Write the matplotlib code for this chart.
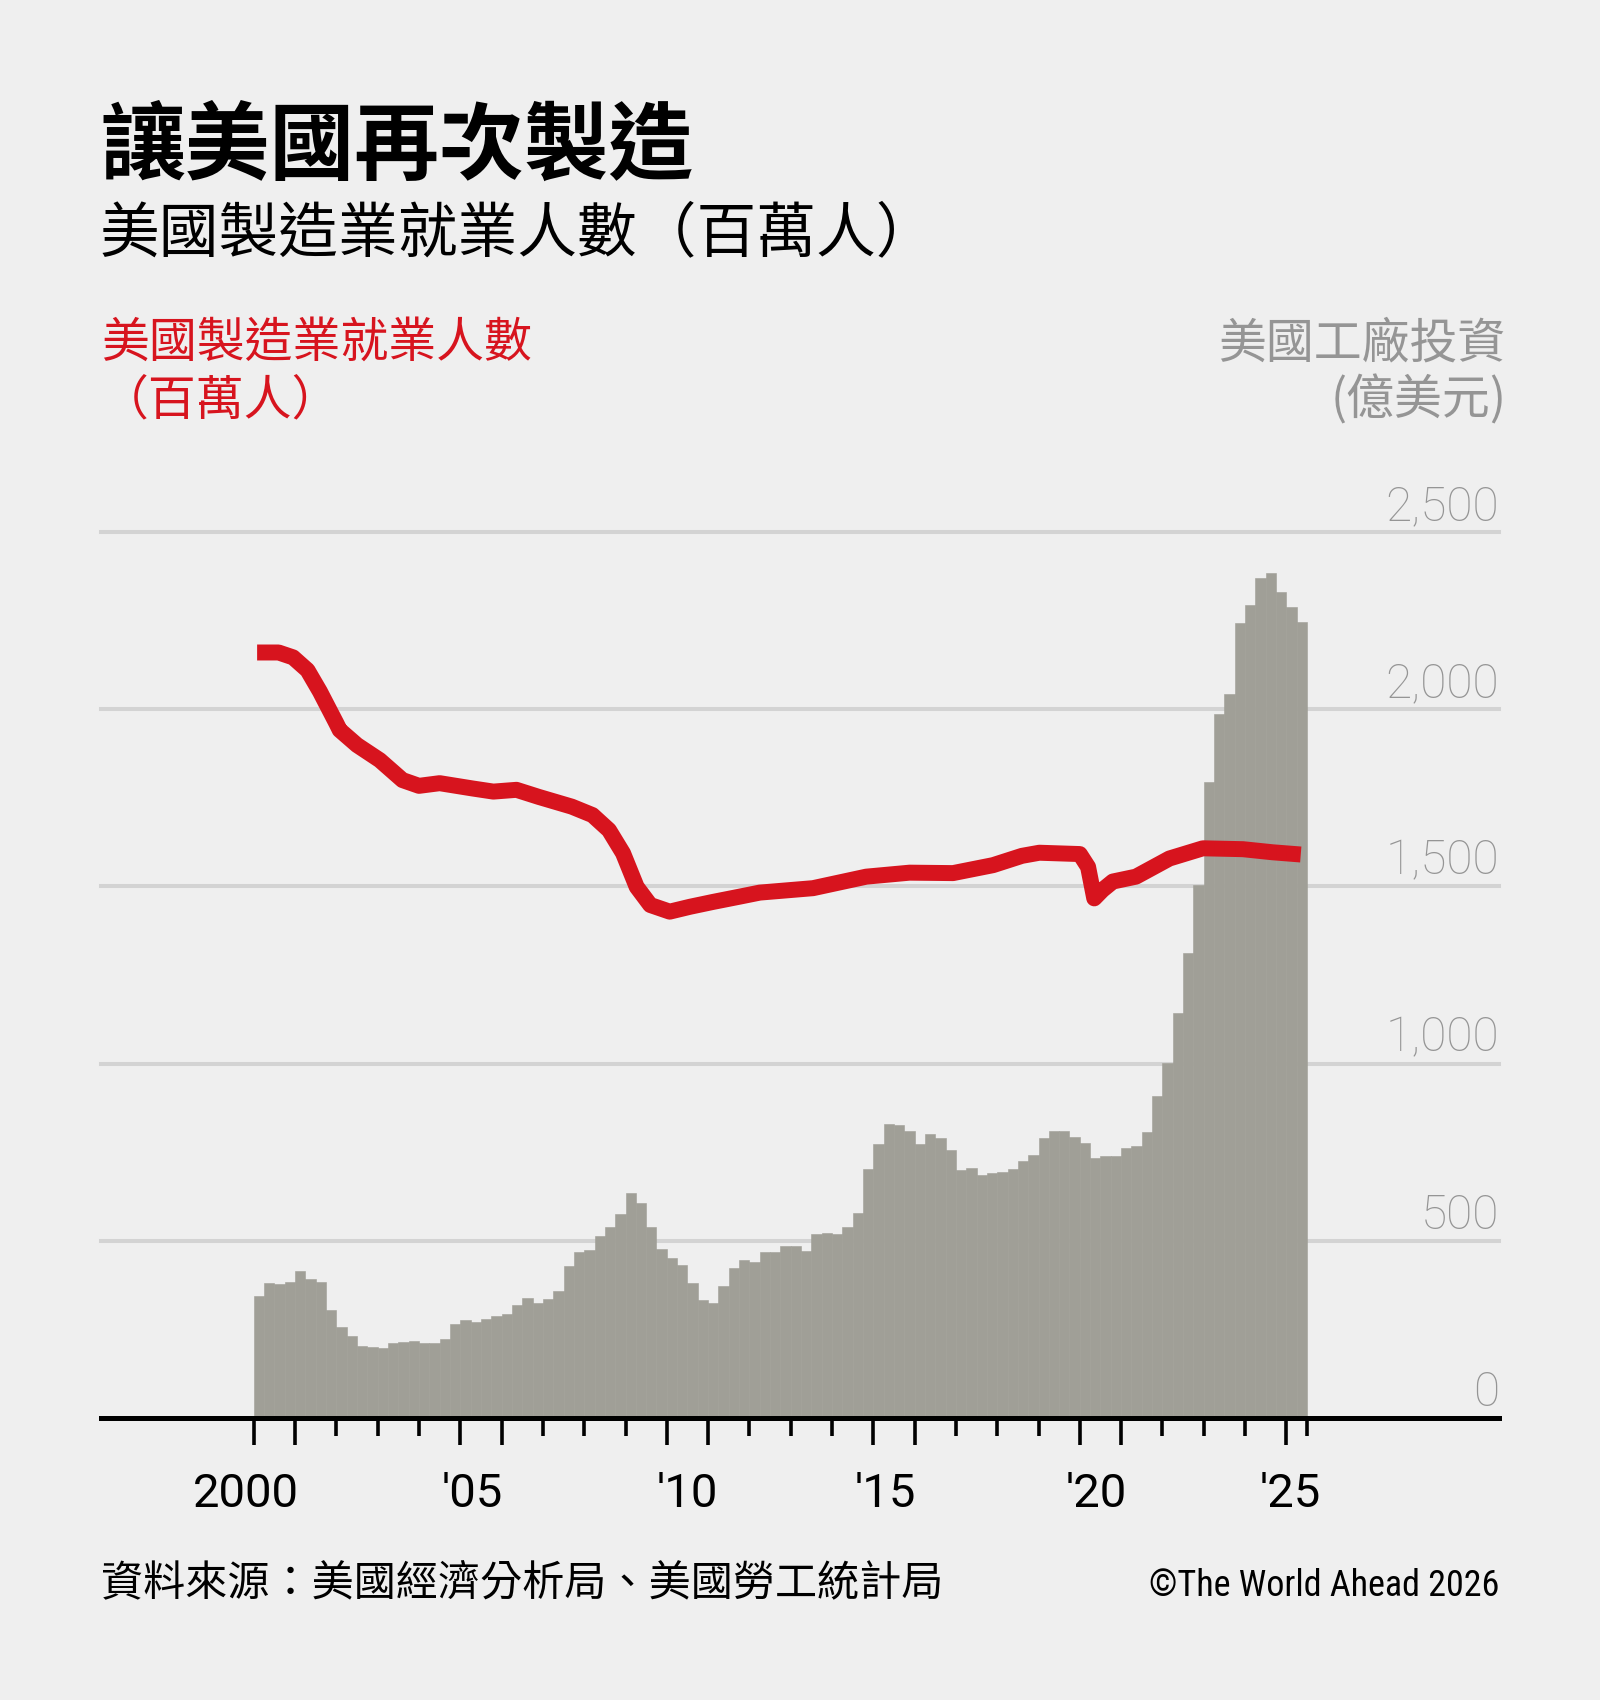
import matplotlib.pyplot as plt
import numpy as np
from matplotlib import font_manager

# quarterly US factory construction investment (100m USD), 2000Q1 .. 2025Q2
start_year = 2000
invest = [
    344, 380, 378, 384,
    414, 392, 384, 305,
    258, 231, 203, 201,
    198, 213, 215, 216,
    213, 211, 222, 265,
    277, 270, 280, 289,
    293, 319, 340, 324,
    336, 359, 429, 468,
    474, 514, 540, 575,
    636, 608, 539, 476,
    451, 431, 380, 333,
    325, 373, 424, 446,
    439, 467, 469, 484,
    484, 470, 519, 523,
    519, 540, 579, 704,
    772, 830, 826, 811,
    774, 801, 790, 756,
    700, 705, 686, 692,
    694, 703, 726, 741,
    791, 811, 810, 794,
    777, 735, 738, 738,
    761, 767, 808, 909,
    1003, 1142, 1311, 1505,
    1795, 1987, 2044, 2244,
    2294, 2369, 2384, 2332,
    2289, 2246,
]

# manufacturing employment (millions)
emp_year = [
    2000.08, 2000.6, 2000.95, 2001.3, 2001.6, 2002.0, 2002.08, 2002.5,
    2003.05, 2003.6, 2004.0, 2004.5, 2005.3, 2005.8, 2006.36, 2006.9,
    2007.7, 2008.2, 2008.6, 2008.94, 2009.27, 2009.6, 2010.07, 2010.56,
    2011.12, 2011.77, 2012.25, 2013.54, 2014.83, 2015.88, 2016.93, 2017.9,
    2018.6, 2019.02, 2020.0, 2020.2, 2020.35, 2020.55, 2020.8, 2021.36,
    2022.17, 2022.98, 2023.95, 2024.67, 2025.35,
]
emp_millions = [
    17.28, 17.28, 17.17, 16.88, 16.40, 15.68, 15.53, 15.19,
    14.85, 14.40, 14.27, 14.33, 14.21, 14.14, 14.18, 14.02,
    13.80, 13.61, 13.27, 12.75, 11.99, 11.58, 11.43, 11.54,
    11.65, 11.77, 11.86, 11.96, 12.22, 12.31, 12.30, 12.48,
    12.69, 12.76, 12.73, 12.44, 11.73, 11.92, 12.11, 12.22,
    12.63, 12.86, 12.84, 12.77, 12.72,
]

y_ticks = [0, 500, 1000, 1500, 2000, 2500]
year_labels = ["2000", "'05", "'10", "'15", "'20", "'25"]
long_ticks = [2000, 2001, 2005, 2006, 2010, 2011, 2015, 2016, 2020, 2021, 2025]
short_ticks = [2002, 2003, 2004, 2007, 2008, 2009, 2012, 2013, 2014,
               2017, 2018, 2019, 2022, 2023, 2024, 2025.5]

BG = "#efefef"
BAR = "#a09f97"
RED = "#d7141e"
GRID = "#d3d3d3"
GREY_TXT = "#959595"
CJK = ["Noto Sans CJK TC", "DejaVu Sans"]
LATIN = ["Roboto", "DejaVu Sans"]

# a condensed face for the credit line, if one is installed
installed = {f.name for f in font_manager.fontManager.ttflist}
narrow_family, narrow_size = ["Roboto", "DejaVu Sans"], 23.5
for name in ("Roboto Condensed", "Liberation Sans Narrow", "Open Sans Condensed"):
    if name in installed:
        narrow_family, narrow_size = [name, "DejaVu Sans"], 26
        break

W, H = 1600, 1700


def fx(px):
    return px / W


def fy(py):
    return 1 - py / H


fig = plt.figure(figsize=(W / 100, H / 100), dpi=100, facecolor=BG)
ax = fig.add_axes([fx(101), fy(1418), 1398 / W, 886 / H])
ax.set_facecolor(BG)
ax.set_xlim(1996.30, 2030.15)
ax.set_ylim(0, 2500)

for v in y_ticks[1:]:
    ax.axhline(v, color=GRID, lw=2.9, zorder=0, clip_on=False)

quarters = start_year + 0.25 * np.arange(len(invest))
ax.bar(quarters, invest, width=0.25, align="edge", color=BAR,
       edgecolor=BAR, linewidth=0.4, zorder=2)

for side in ("top", "left", "right"):
    ax.spines[side].set_visible(False)
ax.spines["bottom"].set_linewidth(3.6)
ax.spines["bottom"].set_color("black")
ax.spines["bottom"].set_zorder(4)
ax.set_yticks([])
ax.set_xticks(long_ticks)
ax.set_xticks(short_ticks, minor=True)
ax.tick_params(axis="x", which="major", length=19.5, width=2.6,
               color="black", labelbottom=False)
ax.tick_params(axis="x", which="minor", length=13, width=2.6, color="black")

label_x = [1999.8, 2005.3, 2010.5, 2015.3, 2020.4, 2025.1]
for lbl, xpos in zip(year_labels, label_x):
    ax.text(xpos, -0.1005, lbl, transform=ax.get_xaxis_transform(),
            ha="center", va="baseline", fontsize=34, family=LATIN,
            color="black")

for v in y_ticks:
    ax.text(1.0, v + 34, f"{v:,}", transform=ax.get_yaxis_transform(),
            ha="right", va="baseline", fontsize=34.5, color=GREY_TXT,
            fontweight="light", family=LATIN, zorder=6)

ax2 = ax.twinx()
ax2.set_ylim(0, 20)
ax2.axis("off")
ax2.plot(emp_year, emp_millions, color=RED, lw=11.5,
         solid_capstyle="butt", solid_joinstyle="round", zorder=5)

fig.text(fx(100), fy(173), "讓美國再次製造", fontsize=61, fontweight="bold",
         family=CJK, va="baseline", color="black")
fig.text(fx(100), fy(251), "美國製造業就業人數（百萬人）", fontsize=43,
         family=CJK, va="baseline", color="black")

fig.text(fx(101), fy(357), "美國製造業就業人數", fontsize=34.5, family=CJK,
         fontweight="medium", va="baseline", color=RED)
fig.text(fx(101), fy(414), "（百萬人）", fontsize=34.5, family=CJK,
         fontweight="medium", va="baseline", color=RED)
fig.text(fx(1505), fy(357), "美國工廠投資", fontsize=34.5, family=CJK,
         fontweight="medium", va="baseline", ha="right", color=GREY_TXT)
fig.text(fx(1507), fy(414), "(億美元)", fontsize=34.5, family=CJK,
         fontweight="medium", va="baseline", ha="right", color=GREY_TXT)

fig.text(fx(101), fy(1596), "資料來源：美國經濟分析局、美國勞工統計局",
         fontsize=30.3, family=CJK, va="baseline", color="black")
fig.text(fx(1499), fy(1596), "©The World Ahead 2026", fontsize=narrow_size,
         family=narrow_family, va="baseline", ha="right", color="black")

fig.savefig("out.png", dpi=100, facecolor=BG)
